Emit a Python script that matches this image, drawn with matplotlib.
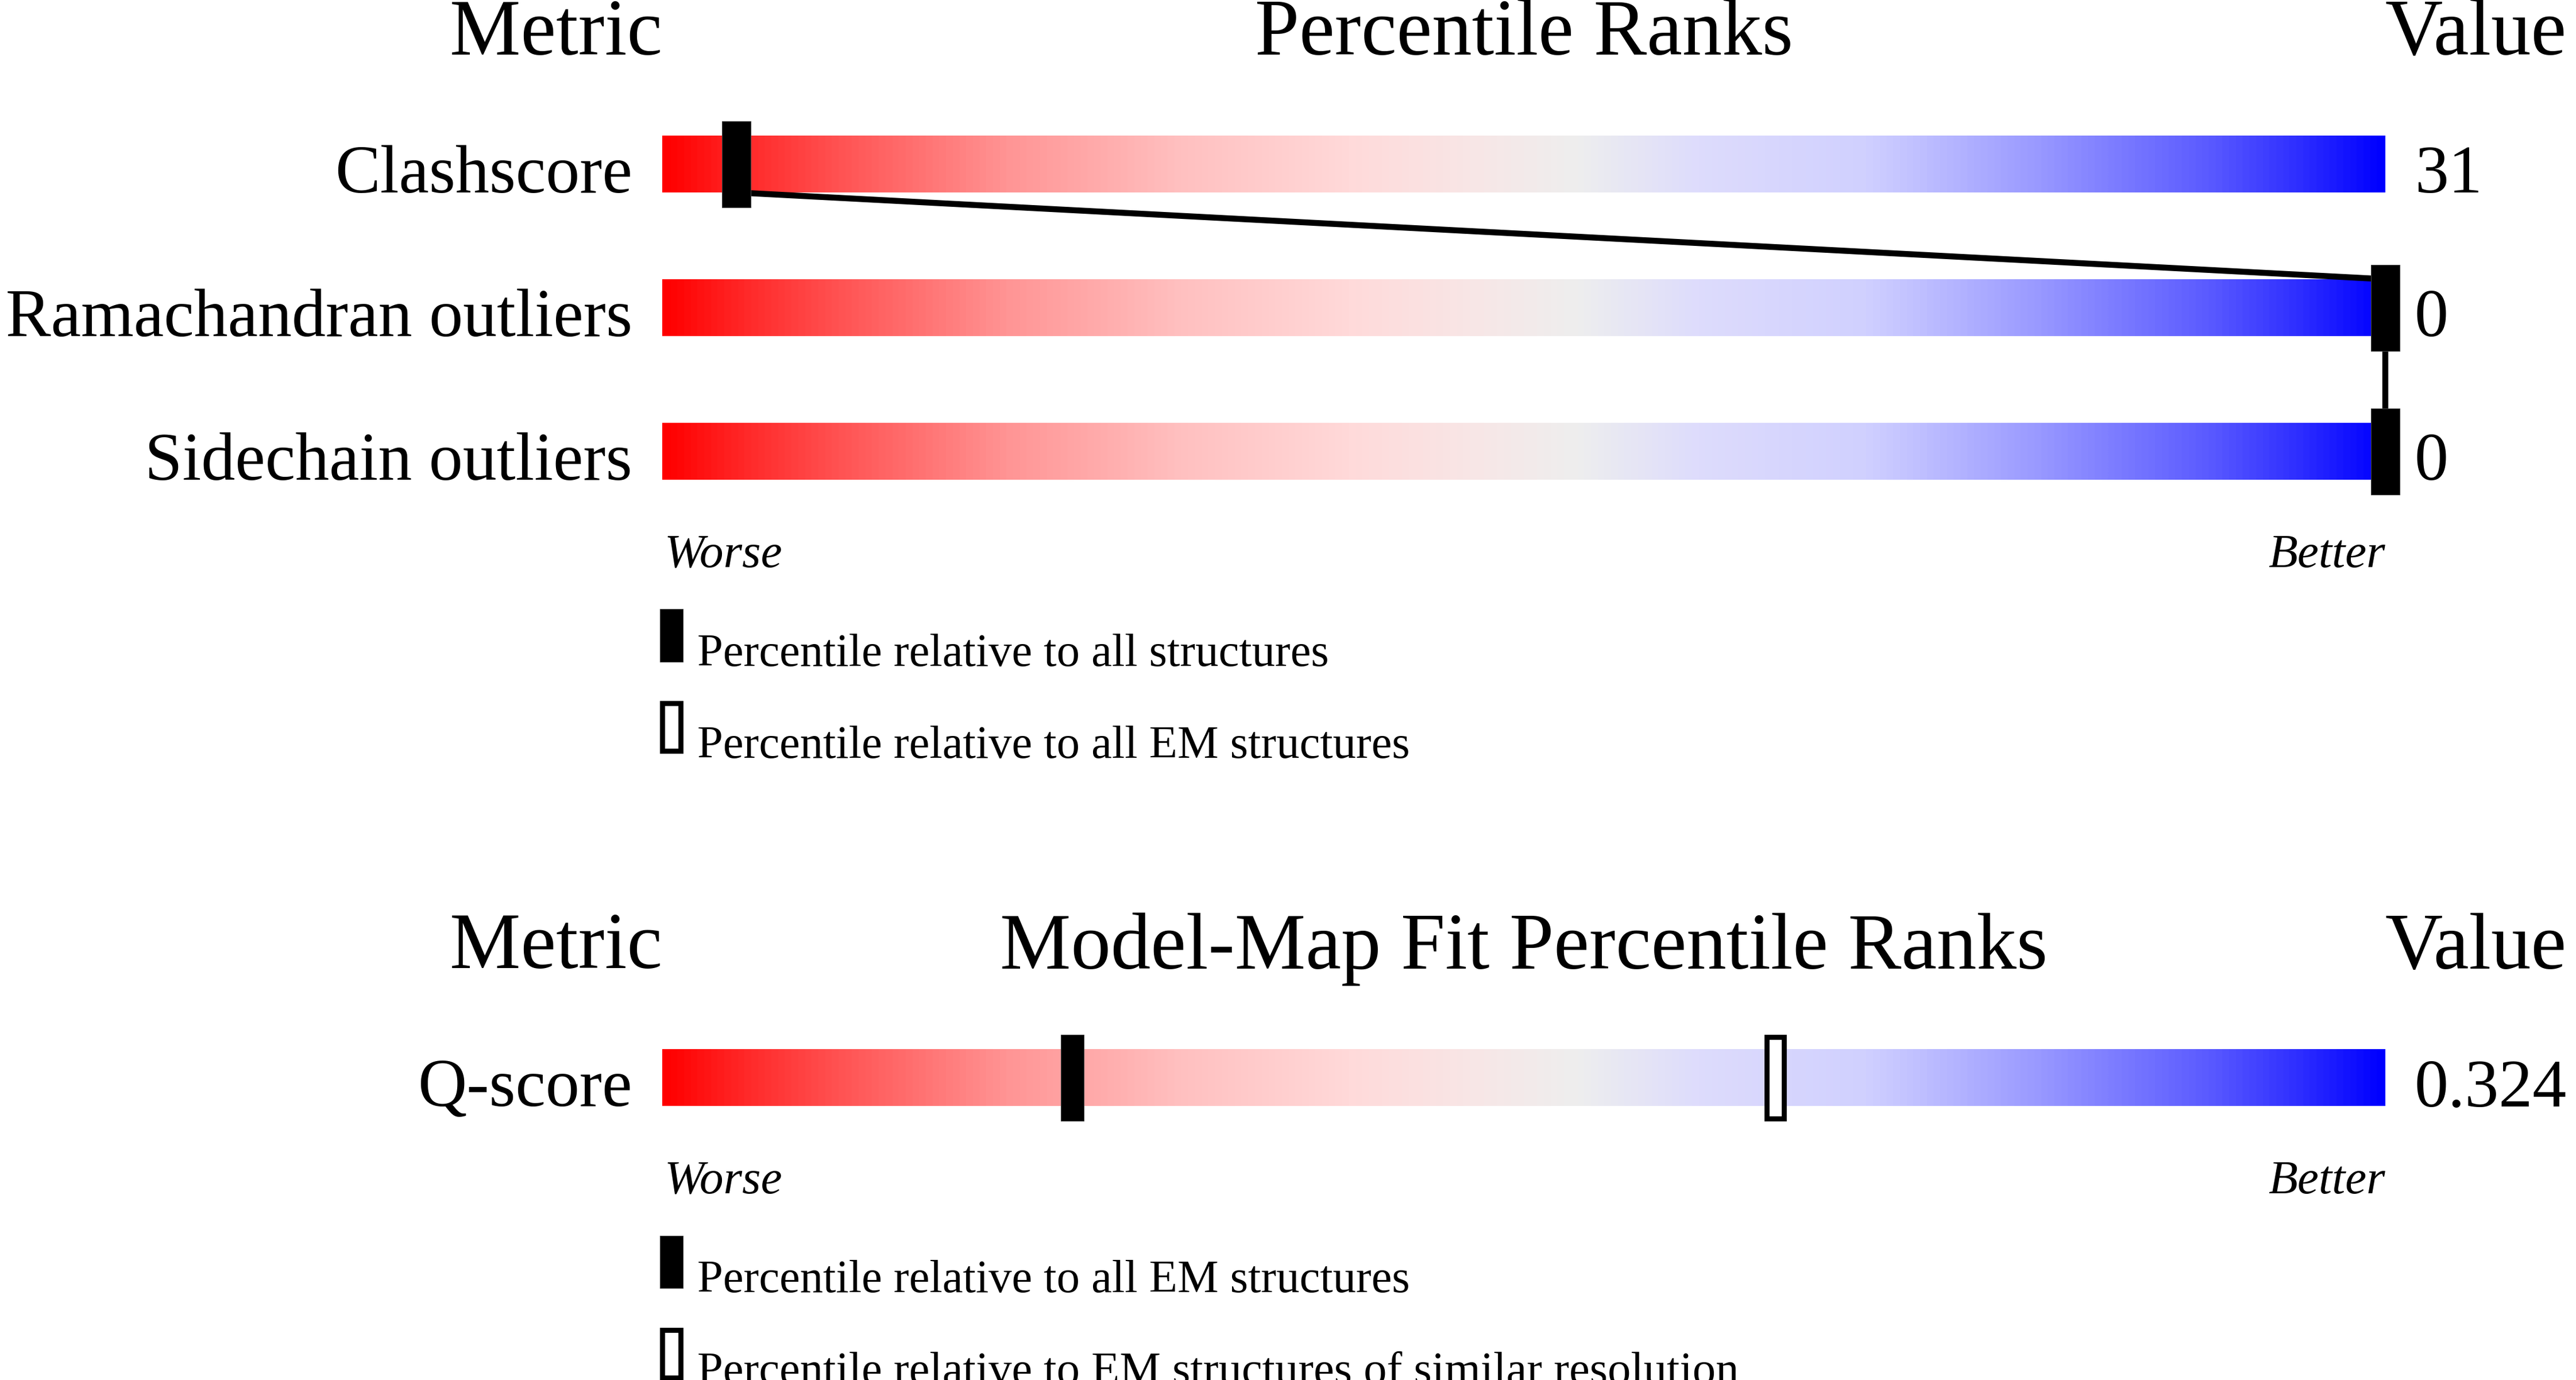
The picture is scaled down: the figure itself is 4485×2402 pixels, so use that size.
import matplotlib
matplotlib.use('Agg')
import matplotlib.pyplot as plt
from matplotlib.colors import LinearSegmentedColormap
from matplotlib.patches import Rectangle
import numpy as np

plt.rcParams['font.family'] = ['Liberation Serif', 'DejaVu Serif']

# data
geo_metrics = ['Clashscore', 'Ramachandran outliers', 'Sidechain outliers']
geo_values = ['31', '0', '0']
geo_pct_all = [4.3, 100, 100]
geo_legend = ['Percentile relative to all structures',
              'Percentile relative to all EM structures']

fit_metrics = ['Q-score']
fit_values = ['0.324']
fit_pct_all = [23.8]
fit_pct_res = [64.6]
fit_legend = ['Percentile relative to all EM structures',
              'Percentile relative to EM structures of similar resolution']

# red -> grey -> blue slider
slider = LinearSegmentedColormap.from_list('slider', [
    (0.0, '#ff0000'), (0.05, '#ff2c2c'), (0.1, '#ff5252'), (0.2, '#ff9595'),
    (0.3, '#ffc0c0'), (0.4, '#ffdada'), (0.47, '#f8e6e6'), (0.53, '#eeeeee'),
    (0.6, '#dedcfc'), (0.7, '#d0d0ff'), (0.75, '#b5b5ff'), (0.8, '#9999ff'),
    (0.9, '#5a5aff'), (0.95, '#3030ff'), (1.0, '#0000ff')])

W, H = 4485, 2402
fig = plt.figure(figsize=(W / 100, H / 100), dpi=100, facecolor='white')

HH = 0.198          # half bar height (row units, 1 row = 250 px)
MH = 0.30           # half marker height
HEAD_FS, LAB_FS, IT_FS, LEG_FS = 100, 85, 60, 58


def draw_panel(ax, title, metrics, values, pct_all, pct_res, legend, mw):
    n = len(metrics)
    ax.set_xlim(0, 100)
    ax.set_ylim(n - 0.5, -0.5)
    ax.axis('off')
    grad = np.linspace(0, 1, 512).reshape(1, -1)
    for i in range(n):
        ax.imshow(grad, cmap=slider, aspect='auto', interpolation='bilinear',
                  extent=(0, 100, i + HH, i - HH), zorder=1)
        ax.text(-1.73, i + HH, metrics[i], ha='right', va='baseline', fontsize=LAB_FS)
        ax.text(101.7, i + HH, values[i], ha='left', va='baseline', fontsize=LAB_FS)
    # polyline joining the filled markers
    for i in range(len(pct_all) - 1):
        ax.plot([pct_all[i], pct_all[i + 1]], [i + HH, i + 1 - HH],
                color='black', lw=7.5, solid_capstyle='butt', zorder=2,
                clip_on=False)
    for i, p in enumerate(pct_all):
        ax.add_patch(Rectangle((p - mw / 2, i - MH), mw, 2 * MH, fc='black',
                               ec='#444444', lw=0.8, zorder=3, clip_on=False))
    for i, p in enumerate(pct_res):
        ax.add_patch(Rectangle((p - 0.505, i - MH + 0.0175), 1.01, 2 * MH - 0.035,
                               fc='white', ec='black', lw=6.3, zorder=3,
                               clip_on=False))
    # headers
    ax.text(0, -0.762, 'Metric', ha='right', va='baseline', fontsize=HEAD_FS)
    ax.text(50, -0.762, title, ha='center', va='baseline', fontsize=HEAD_FS)
    ax.text(100, -0.762, 'Value', ha='left', va='baseline', fontsize=HEAD_FS)
    last = n - 1
    ax.text(0.1, last + 0.804, 'Worse', ha='left', va='baseline',
            fontsize=IT_FS, style='italic')
    ax.text(100, last + 0.804, 'Better', ha='right', va='baseline',
            fontsize=IT_FS, style='italic')
    # legend
    ax.add_patch(Rectangle((-0.13, last + 1.098), 1.33, 0.366,
                           fc='black', ec='#444444', lw=0.8, clip_on=False))
    ax.add_patch(Rectangle((-0.13 + 0.145, last + 1.738 + 0.0175), 1.33 - 0.29,
                           0.366 - 0.035, fc='white', ec='black', lw=6.3, clip_on=False))
    ax.text(2.03, last + 1.492, legend[0], ha='left', va='baseline', fontsize=LEG_FS)
    ax.text(2.03, last + 2.132, legend[1], ha='left', va='baseline', fontsize=LEG_FS)


left = 1153 / W
width = 3000 / W
ax1 = fig.add_axes([left, 1 - 910.5 / H, width, 750 / H])
draw_panel(ax1, 'Percentile Ranks', geo_metrics, geo_values, geo_pct_all, [],
           geo_legend, 1.667)

ax2 = fig.add_axes([left, 1 - 2001 / H, width, 250 / H])
draw_panel(ax2, 'Model-Map Fit Percentile Ranks', fit_metrics, fit_values,
           fit_pct_all, fit_pct_res, fit_legend, 1.333)

fig.savefig('out.png', dpi=100, facecolor='white')
